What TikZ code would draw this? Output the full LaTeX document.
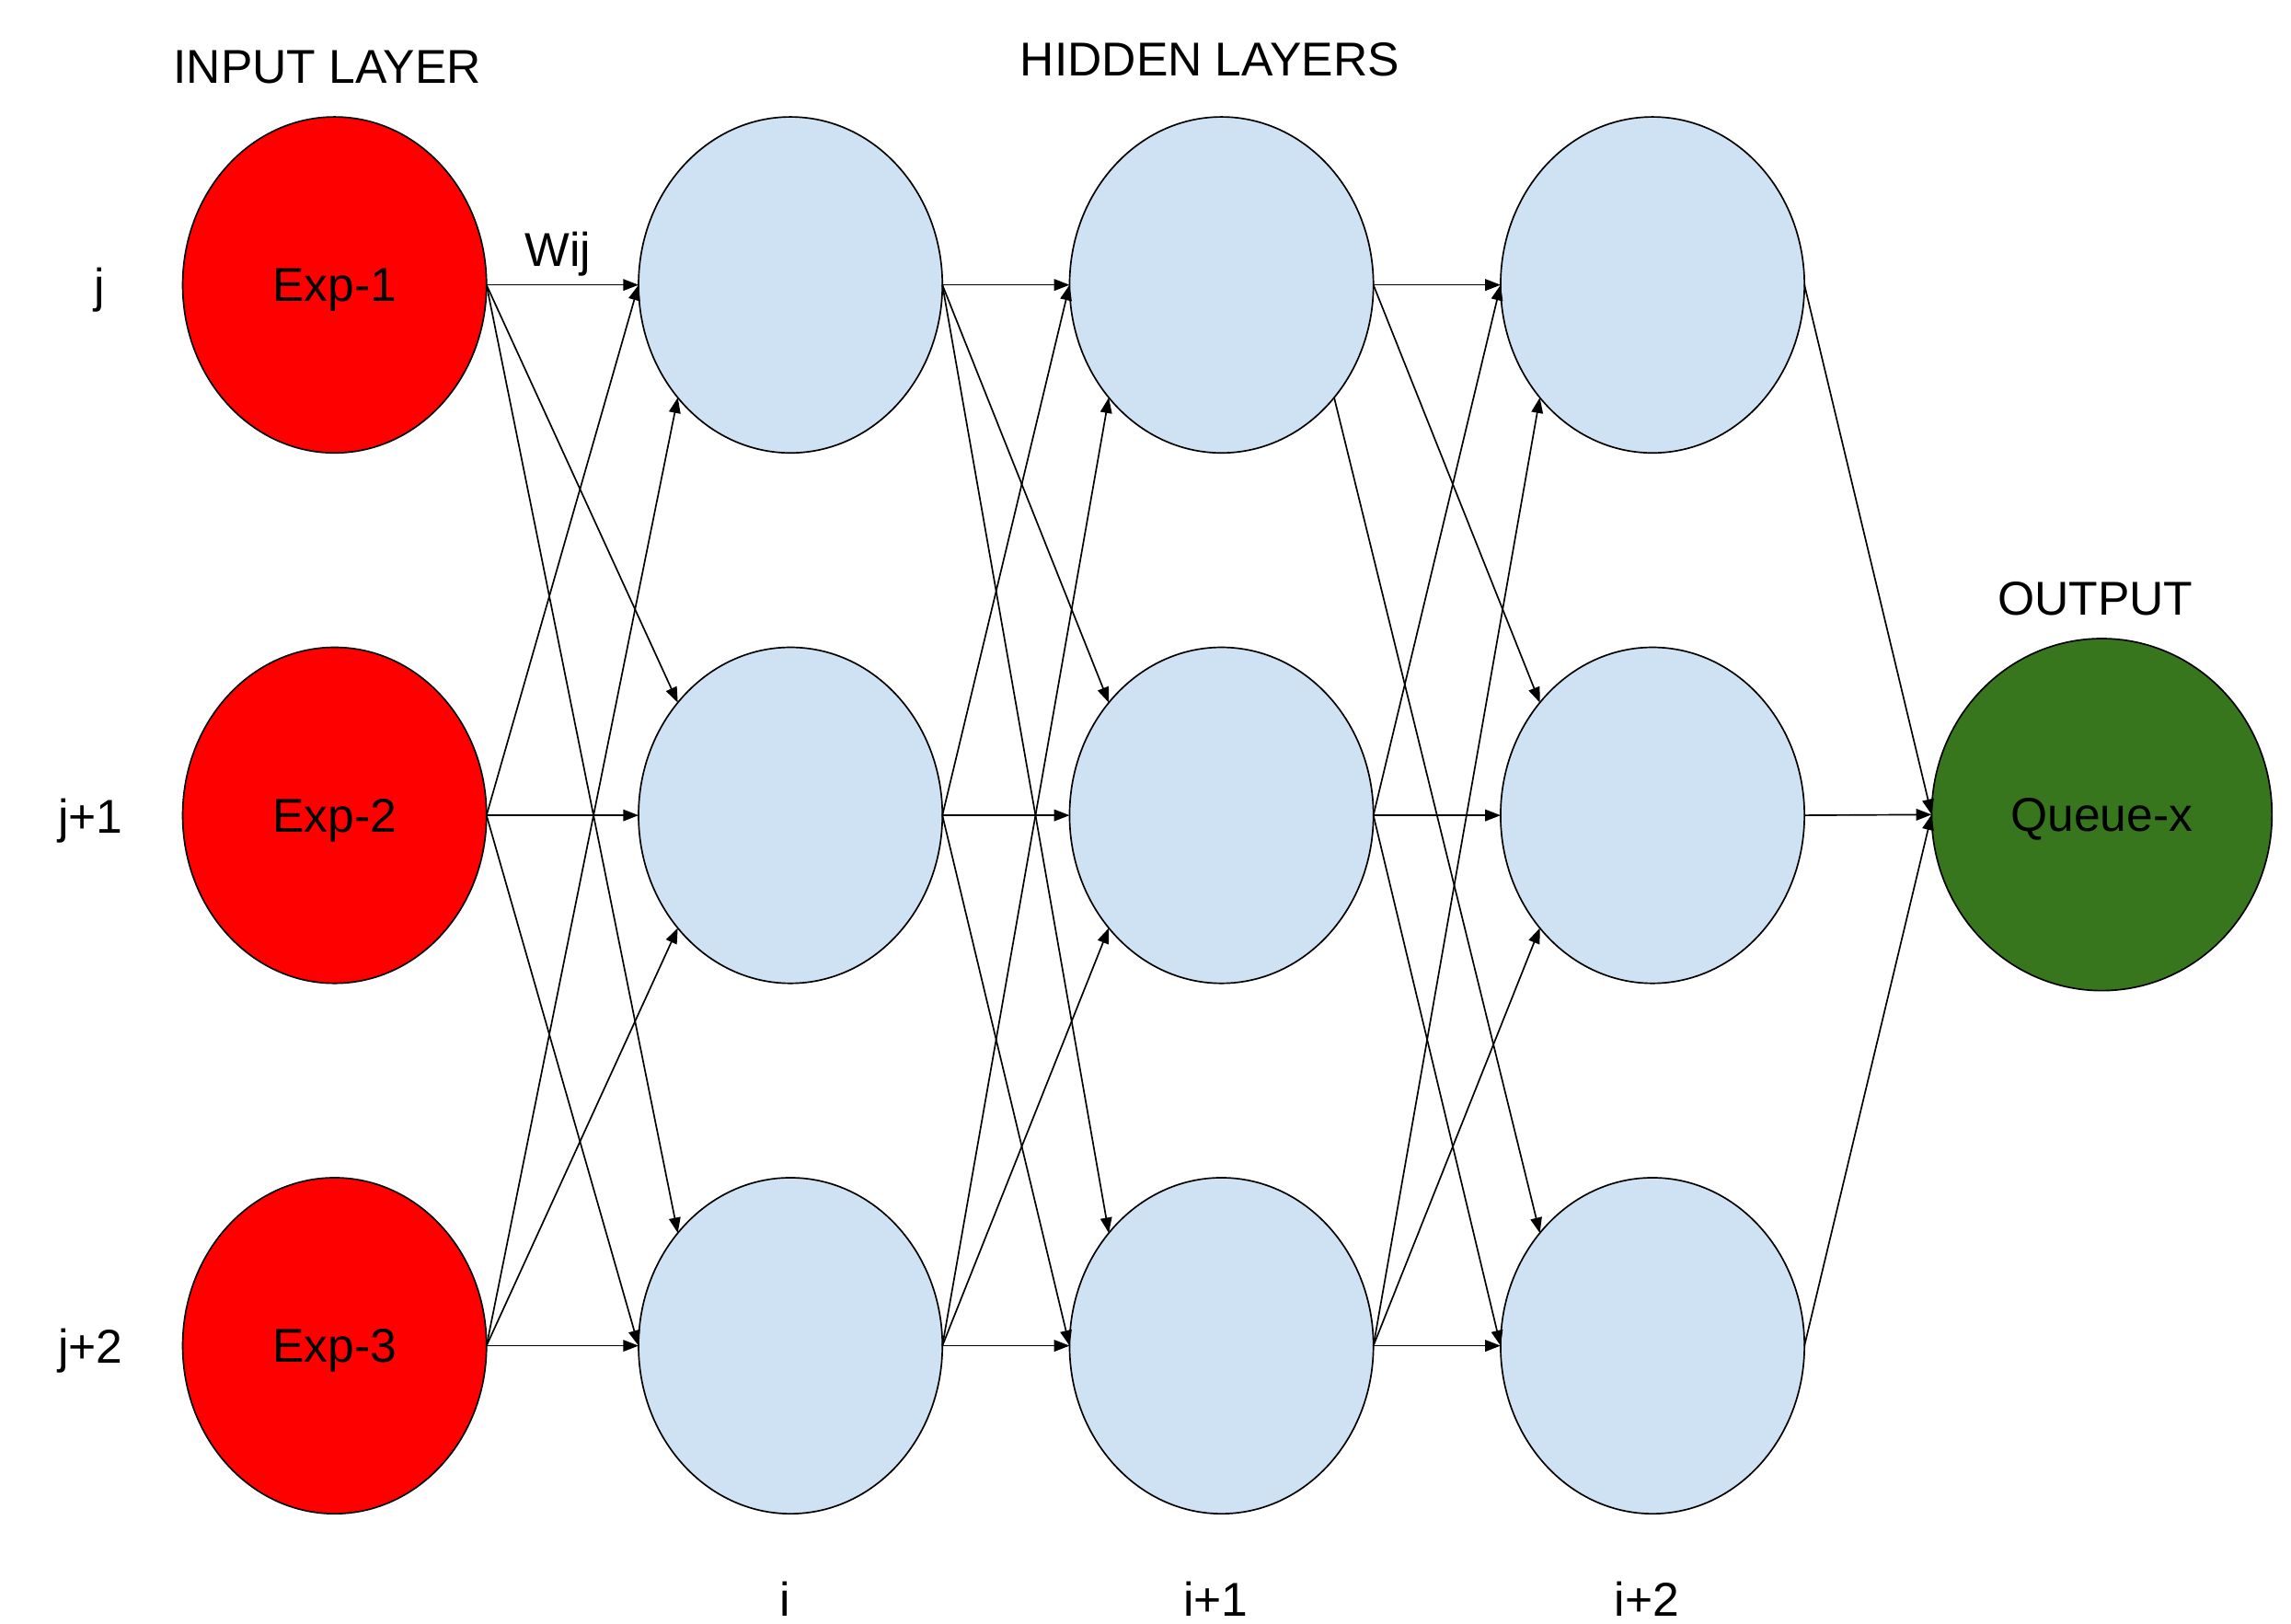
\documentclass[tikz,border=0pt]{standalone}
\usepackage{fontspec}
\setmainfont{Liberation Sans}
\usetikzlibrary{shapes.geometric,arrows.meta}
\definecolor{inred}{HTML}{FF0000}
\definecolor{hidblue}{HTML}{CFE2F3}
\definecolor{outgreen}{HTML}{38761D}
\begin{document}
\begin{tikzpicture}[x=0.02cm,y=-0.02cm,
  font=\fontsize{18.5}{22}\selectfont,
  neuron/.style={ellipse, draw=black, line width=0.6pt, minimum width=4.16cm, minimum height=4.6cm, inner sep=0pt, outer sep=0pt, text depth=0pt},
  inp/.style={neuron, fill=inred},
  hid/.style={neuron, fill=hidblue},
  outp/.style={neuron, fill=outgreen, minimum width=4.66cm, minimum height=4.82cm},
  conn/.style={draw=black, line width=0.6pt, -{Triangle[length=6pt,width=4.5pt]}},
  lbl/.style={anchor=base, inner sep=0pt}]
\useasboundingbox (0,0) rectangle (1568,1111);
\fill[white] (0,0) rectangle (1568,1111);

% input layer
\node[inp] (I1) at (229,195) {Exp-1};
\node[inp] (I2) at (229,558) {Exp-2};
\node[inp] (I3) at (229,921) {Exp-3};
% hidden layers
\node[hid] (A1) at (541,195) {};
\node[hid] (A2) at (541,558) {};
\node[hid] (A3) at (541,921) {};
\node[hid] (B1) at (836,195) {};
\node[hid] (B2) at (836,558) {};
\node[hid] (B3) at (836,921) {};
\node[hid] (C1) at (1131,195) {};
\node[hid] (C2) at (1131,558) {};
\node[hid] (C3) at (1131,921) {};
% output
\node[outp] (O) at (1438.5,557.5) {Queue-x};

% labels
\node[lbl] (tin) at (224,57) {INPUT LAYER};
\node[lbl] (thid) at (828,52) {HIDDEN LAYERS};
\node[lbl] (tout) at (1434,421) {OUTPUT};
\node[lbl] (tw) at (382,182) {Wij};
\node[lbl] (rj) at (68,207) {j};
\node[lbl] (rj1) at (62,570) {j+1};
\node[lbl] (rj2) at (62,933) {j+2};
\node[lbl] (ci) at (537,1106) {i};
\node[lbl] (ci1) at (832,1106) {i+1};
\node[lbl] (ci2) at (1127,1106) {i+2};

% connections input -> H1 and H1 -> H2
\foreach \s/\t in {I/A, A/B}{
  \draw[conn] (\s1.east) -- (\t1.west);
  \draw[conn] (\s1.east) -- (\t2.135);
  \draw[conn] (\s1.east) -- (\t3.135);
  \draw[conn] (\s2.east) -- (\t1.west);
  \draw[conn] (\s2.east) -- (\t2.west);
  \draw[conn] (\s2.east) -- (\t3.west);
  \draw[conn] (\s3.east) -- (\t1.225);
  \draw[conn] (\s3.east) -- (\t2.225);
  \draw[conn] (\s3.east) -- (\t3.west);
}
% H2 -> H3
\draw[conn] (B1.east) -- (C1.west);
\draw[conn] (B1.east) -- (C2.135);
\draw[conn] (B1.315) -- (C3.135);
\draw[conn] (B2.east) -- (C1.west);
\draw[conn] (B2.east) -- (C2.west);
\draw[conn] (B2.east) -- (C3.west);
\draw[conn] (B3.east) -- (C1.225);
\draw[conn] (B3.east) -- (C2.225);
\draw[conn] (B3.east) -- (C3.west);
% H3 -> output
\draw[conn] (C1.east) -- (O.west);
\draw[conn] (C2.east) -- (O.west);
\draw[conn] (C3.east) -- (O.west);
\end{tikzpicture}
\end{document}
